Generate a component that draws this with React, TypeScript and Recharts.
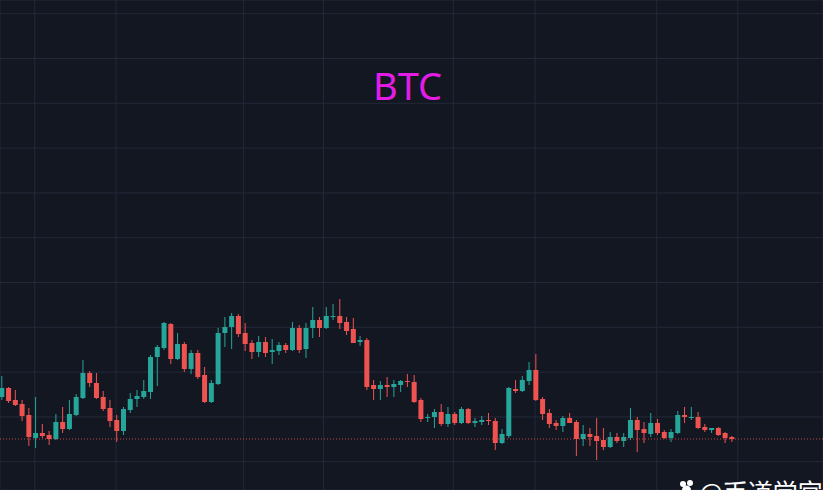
import React from 'react';
import { ComposedChart, Bar, XAxis, YAxis, CartesianGrid, ReferenceLine } from 'recharts';

// BTC candles (arbitrary price units)
const OPEN = [
  20930, 21020, 20900, 20860, 20750, 20520, 20570, 20550, 20510, 20680,
  20610, 20750, 20920, 21170, 21070, 20930, 20820, 20700, 20590, 20800,
  20910, 20930, 20980, 21330, 21420, 21660, 21310, 21460, 21210, 21370,
  21150, 20880, 21060, 21570, 21630, 21740, 21570, 21470, 21380, 21480,
  21380, 21390, 21450, 21400, 21620, 21410, 21620, 21700, 21620, 21730,
  21740, 21680, 21610, 21480, 21500, 21050, 21010, 21050, 21030, 21050,
  21090, 21080, 20900, 20720, 20730, 20780, 20660, 20760, 20670, 20810,
  20670, 20680, 20700, 20690, 20470, 20540, 21010, 20990, 21090, 21200,
  20910, 20770, 20670, 20640, 20720, 20680, 20510, 20560, 20540, 20500,
  20430, 20530, 20490, 20520, 20700, 20610, 20560, 20670, 20580, 20520,
  20570, 20750, 20720, 20730, 20630, 20600, 20620, 20570, 20530,
];
const HIGH = [
  21140, 21030, 21000, 20900, 20820, 20930, 20660, 20590, 20760, 20830,
  20900, 20960, 21300, 21190, 21170, 20990, 20900, 20750, 20830, 20970,
  21000, 21100, 21350, 21450, 21680, 21670, 21570, 21480, 21400, 21400,
  21230, 21100, 21620, 21730, 21770, 21760, 21670, 21500, 21540, 21530,
  21510, 21480, 21470, 21680, 21650, 21670, 21830, 21730, 21830, 21860,
  21910, 21730, 21720, 21540, 21520, 21100, 21090, 21130, 21100, 21100,
  21160, 21150, 20920, 20760, 20810, 20860, 20830, 20780, 20830, 20820,
  20720, 20740, 20770, 20720, 20610, 21030, 21100, 21140, 21280, 21360,
  20930, 20810, 20700, 20740, 20770, 20700, 20650, 20620, 20720, 20620,
  20580, 20570, 20570, 20820, 20730, 20680, 20770, 20710, 20600, 20610,
  20790, 20830, 20830, 20780, 20660, 20620, 20630, 20580, 20540,
];
const LOW = [
  20900, 20870, 20840, 20690, 20440, 20420, 20520, 20450, 20500, 20570,
  20600, 20740, 20910, 21030, 20910, 20790, 20630, 20480, 20550, 20770,
  20830, 20910, 20910, 21040, 21400, 21260, 21300, 21180, 21160, 21110,
  20870, 20870, 21050, 21430, 21410, 21530, 21390, 21310, 21330, 21330,
  21260, 21350, 21370, 21390, 21370, 21320, 21520, 21530, 21610, 21700,
  21610, 21550, 21470, 21440, 21000, 20900, 20900, 20930, 20930, 20980,
  21030, 20870, 20680, 20680, 20620, 20640, 20630, 20650, 20660, 20660,
  20630, 20650, 20650, 20400, 20460, 20520, 20970, 20980, 21050, 20890,
  20700, 20620, 20600, 20580, 20670, 20340, 20440, 20440, 20300, 20400,
  20420, 20470, 20430, 20500, 20380, 20470, 20530, 20550, 20510, 20480,
  20560, 20670, 20700, 20610, 20580, 20570, 20540, 20470, 20480,
];
const CLOSE = [
  21020, 20890, 20850, 20740, 20530, 20570, 20540, 20510, 20680, 20610,
  20760, 20930, 21170, 21070, 20920, 20810, 20690, 20590, 20810, 20910,
  20940, 20990, 21330, 21430, 21670, 21310, 21460, 21210, 21370, 21130,
  20880, 21070, 21570, 21630, 21740, 21560, 21460, 21380, 21480, 21370,
  21400, 21450, 21400, 21620, 21400, 21620, 21700, 21620, 21740, 21740,
  21670, 21590, 21470, 21500, 21030, 21010, 21050, 21030, 21060, 21090,
  21080, 20880, 20710, 20730, 20780, 20660, 20760, 20670, 20810, 20670,
  20690, 20700, 20690, 20470, 20560, 21020, 20990, 21100, 21200, 20900,
  20760, 20660, 20640, 20720, 20670, 20510, 20560, 20530, 20490, 20430,
  20530, 20490, 20530, 20700, 20600, 20570, 20670, 20570, 20520, 20580,
  20750, 20730, 20730, 20620, 20600, 20620, 20550, 20520, 20510,
];

// time grid (in candle units) and price grid
const X_TICKS = [4.9, 16.9, 35.8, 47.6, 66.8, 78.9, 96.9, 108.9];
const Y_TICKS = [20283, 20731, 21179, 21627, 22075, 22523, 22971, 23419, 23867, 24315, 24763];

const UP = '#26a69a';
const DOWN = '#ef5350';

const data = OPEN.map((o, i) => ({ i, open: o, high: HIGH[i], low: LOW[i], close: CLOSE[i] }));
const lastClose = CLOSE[CLOSE.length - 1];

const Candle = (props: any) => {
  const { x, y, width, height, payload } = props;
  if (x == null || y == null) return null;
  const { open, close, high, low } = payload;
  const color = close >= open ? UP : DOWN;
  const top = Math.min(y, y + height);
  const h = Math.abs(height);
  const k = h / (high - low || 1);
  const bodyTop = top + (high - Math.max(open, close)) * k;
  const bodyH = Math.max(1, Math.abs(open - close) * k);
  const cx = x + width / 2;
  return (
    <g>
      <line x1={cx} x2={cx} y1={top} y2={top + h} stroke={color} strokeWidth={1} />
      <rect x={x} y={bodyTop} width={width} height={bodyH} fill={color} />
    </g>
  );
};

export default function App() {
  return (
    <div style={{ position: 'fixed', left: 0, top: 0, width: 823, height: 490, background: '#131722', overflow: 'hidden' }}>
      <ComposedChart width={823} height={490} data={data} margin={{ top: 0, right: 0, bottom: 0, left: 0 }}>
        <CartesianGrid stroke="#242939" strokeWidth={1} />
        <XAxis type="number" dataKey="i" domain={[-0.25, 121.5]} ticks={X_TICKS} hide allowDataOverflow />
        <YAxis type="number" domain={[20000, 24900]} ticks={Y_TICKS} hide allowDataOverflow />
        <ReferenceLine y={lastClose} stroke={DOWN} strokeDasharray="1 2" strokeOpacity={0.8} />
        <Bar
          dataKey={(d: any) => [d.low, d.high]}
          barSize={5}
          shape={<Candle />}
          isAnimationActive={false}
        />
      </ComposedChart>
      <svg width={823} height={490} style={{ position: 'absolute', left: 0, top: 0, pointerEvents: 'none' }}>
        <text x={407.5} y={99.5} textAnchor="middle" fontSize={38} fontFamily="'Noto Sans', sans-serif" fill="#e41ce6">
          BTC
        </text>
        <g fill="#ffffff">
          <circle cx={683} cy={484} r={3} />
          <circle cx={690} cy={483} r={3} />
          <circle cx={686.5} cy={490} r={4.5} />
        </g>
        <text x={699} y={502} fontSize={25} fontFamily="'Noto Sans CJK SC', sans-serif" fill="#ffffff">
          @币道学宫
        </text>
      </svg>
    </div>
  );
}
